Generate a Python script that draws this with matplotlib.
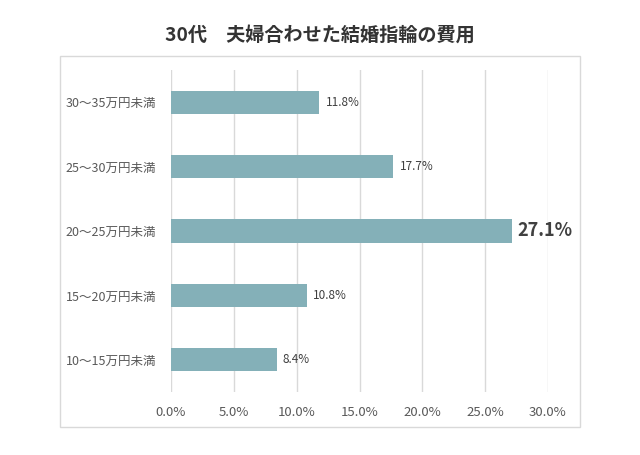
import matplotlib
matplotlib.use("Agg")
import matplotlib.pyplot as plt
from matplotlib.patches import Rectangle

plt.rcParams['font.family'] = ['Noto Sans CJK JP', 'DejaVu Sans']

categories = ["10～15万円未満", "15～20万円未満", "20～25万円未満", "25～30万円未満", "30～35万円未満"]
values = [8.4, 10.8, 27.1, 17.7, 11.8]
xticks = [0, 5, 10, 15, 20, 25, 30]
xtick_labels = ["0.0%", "5.0%", "10.0%", "15.0%", "20.0%", "25.0%", "30.0%"]
title = "30代　夫婦合わせた結婚指輪の費用"

fig = plt.figure(figsize=(6.4, 4.55), dpi=100)
W, H = 640, 455
fig.patches.append(Rectangle((60 / W, 1 - 427 / H), 520 / W, 371 / H,
                             transform=fig.transFigure, fill=False,
                             edgecolor="#d9d9d9", linewidth=1))
ax = fig.add_axes([171 / W, 1 - 392 / H, (548 - 171) / W, (392 - 70) / H])

bar_color = "#84b0b8"
y = list(range(len(categories)))
ax.barh(y, values, height=0.36, color=bar_color, zorder=3)
ax.set_xlim(0, 30)
ax.set_ylim(-0.5, len(categories) - 0.5)
ax.set_xticks(xticks)
ax.set_xticklabels(xtick_labels, color="#595959", fontsize=9.5)
ax.set_yticks(y)
ax.set_yticklabels(categories, color="#595959", fontsize=9)
ax.tick_params(axis="both", length=0)
ax.tick_params(axis="x", pad=10)
ax.tick_params(axis="y", pad=10.5)
ax.grid(axis="x", color="#d9d9d9", linewidth=1, zorder=0)
for s in ax.spines.values():
    s.set_visible(False)

vmax = max(values)
for yi, v in zip(y, values):
    if v == vmax:
        ax.text(v + 0.5, yi, f"{v:.1f}%", va="center", ha="left",
                fontsize=13, fontweight="bold", color="#404040")
    else:
        ax.text(v + 0.5, yi, f"{v:.1f}%", va="center", ha="left",
                fontsize=8.5, color="#404040")

fig.text(320 / W, 1 - 35 / H, title, ha="center", va="center",
         fontsize=13.8, fontweight="bold", color="#333333")

fig.savefig("out.png", dpi=100)
